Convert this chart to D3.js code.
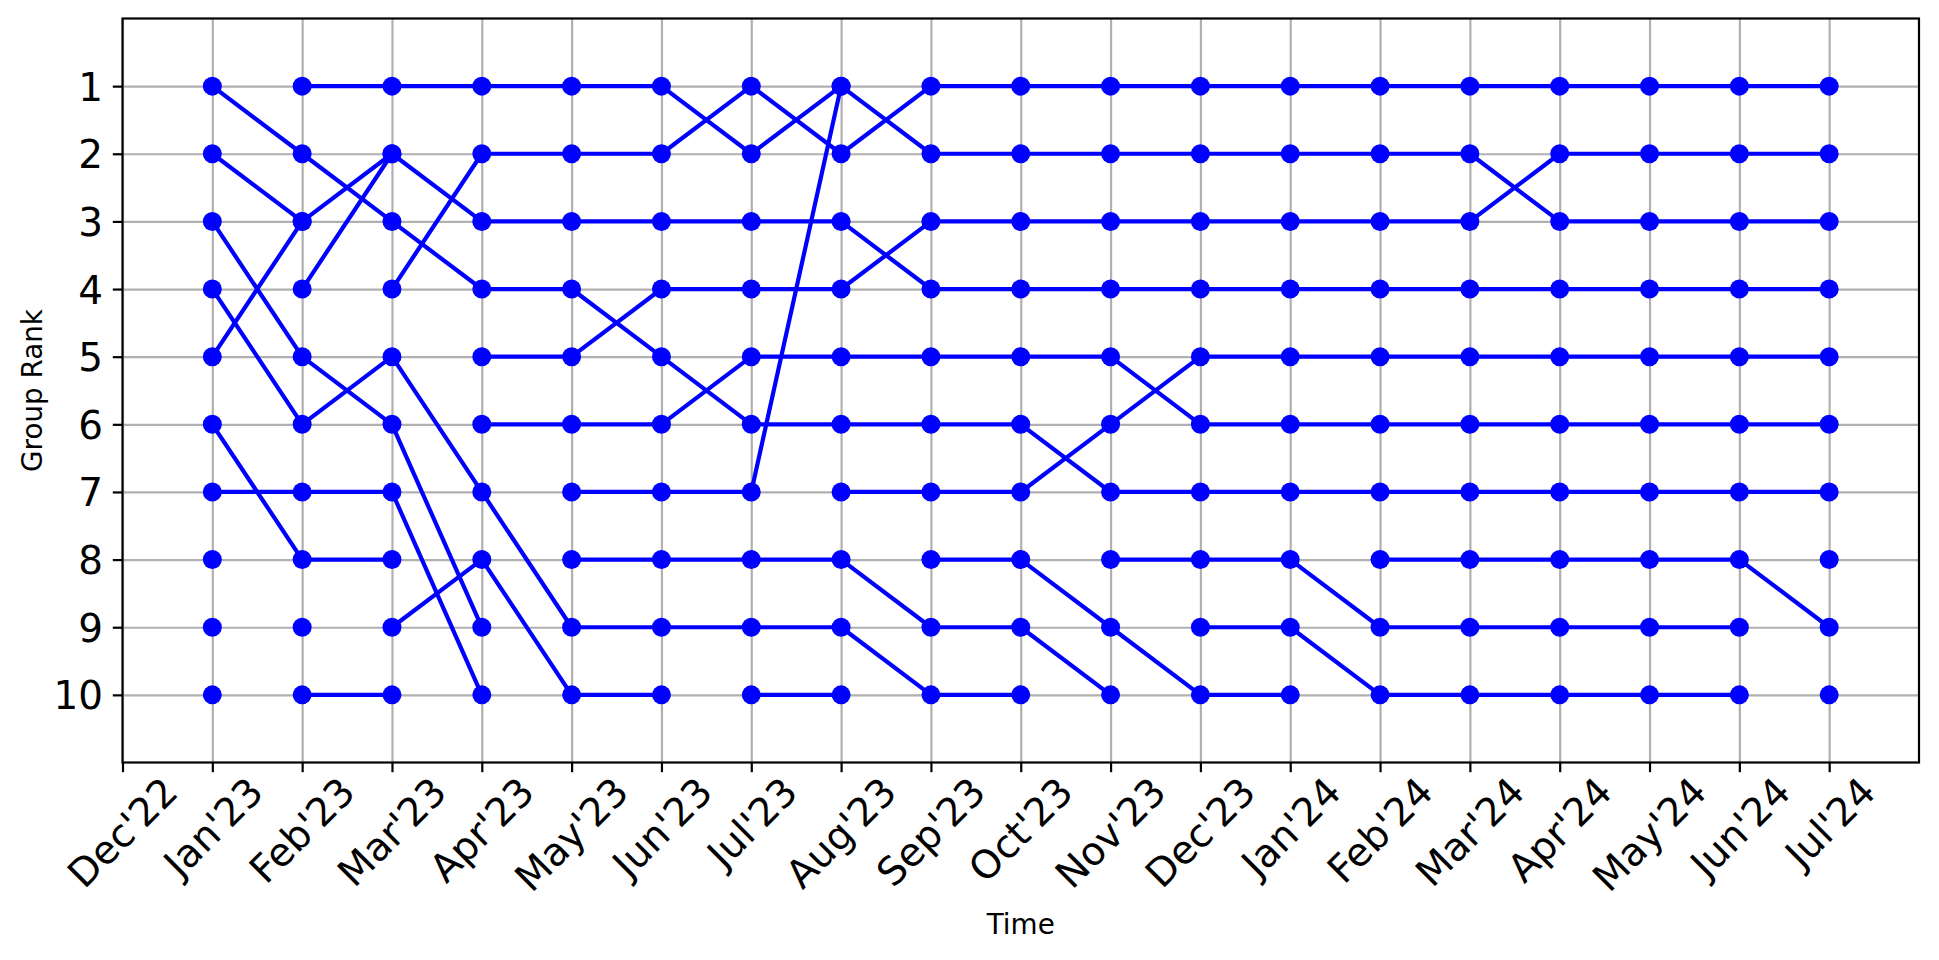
<!DOCTYPE html>
<html>
<head>
<meta charset="utf-8">
<script src="https://cdn.jsdelivr.net/npm/d3@7/dist/d3.min.js"></script>
<style>
  body { margin: 0; background: #fff; }
  svg { display: block; font-family: "DejaVu Sans", sans-serif; }
</style>
</head>
<body>
<svg id="chart" width="1939" height="960"></svg>
<script>
const _ = null;

// x tick labels, Dec'22 is the empty month at the left edge
const tickLabels = ["Dec'22", "Jan'23", "Feb'23", "Mar'23", "Apr'23", "May'23", "Jun'23",
  "Jul'23", "Aug'23", "Sep'23", "Oct'23", "Nov'23", "Dec'23", "Jan'24", "Feb'24",
  "Mar'24", "Apr'24", "May'24", "Jun'24", "Jul'24"];
const rankTicks = [1, 2, 3, 4, 5, 6, 7, 8, 9, 10];

// rank of each group per month (index 0 = Jan'23), null = not in the top 10
const g01 = [1, 2, 3, 4, 4, 5, 6, 6, 6, 6, 7, 7, 7, 7, 7, 7, 7, 7, 7];
const g02 = [2, 3, 2, 3, 3, 3, 3, 3, 4, 4, 4, 4, 4, 4, 4, 4, 4, 4, 4];
const g03 = [3, 5, 6, 9];
const g04 = [4, 6, 5, 7, 9, 9, 9, 9, 10, 10];
const g05 = [5, 3];
const g06 = [6, 8, 8];
const g07 = [7, 7, 7, 10];
const g08 = [8];
const g09 = [9];
const g10 = [10];
const g11 = [_, 1, 1, 1, 1, 1, 2, 1, 2, 2, 2, 2, 2, 2, 2, 3, 3, 3, 3];
const g12 = [_, 4, 2];
const g13 = [_, 9];
const g14 = [_, 10, 10];
const g15 = [_, _, 4, 2, 2, 2, 1, 2, 1, 1, 1, 1, 1, 1, 1, 1, 1, 1, 1];
const g16 = [_, _, 9, 8, 10, 10];
const g17 = [_, _, _, 5, 5, 4, 4, 4, 3, 3, 3, 3, 3, 3, 3, 2, 2, 2, 2];
const g18 = [_, _, _, 6, 6, 6, 5, 5, 5, 5, 5, 6, 6, 6, 6, 6, 6, 6, 6];
const g19 = [_, _, _, _, 7, 7, 7, 1];
const g20 = [_, _, _, _, 8, 8, 8, 8, 9, 9, 10];
const g21 = [_, _, _, _, _, _, 10, 10];
const g22 = [_, _, _, _, _, _, _, 7, 7, 7, 6, 5, 5, 5, 5, 5, 5, 5, 5];
const g23 = [_, _, _, _, _, _, _, _, 8, 8, 9, 10, 10];
const g24 = [_, _, _, _, _, _, _, _, _, _, 8, 8, 8, 9, 9, 9, 9, 9];
const g25 = [_, _, _, _, _, _, _, _, _, _, _, 9, 9, 10, 10, 10, 10, 10];
const g26 = [_, _, _, _, _, _, _, _, _, _, _, _, _, 8, 8, 8, 8, 8, 9];
const g27 = [_, _, _, _, _, _, _, _, _, _, _, _, _, _, _, _, _, _, 8];
const g28 = [_, _, _, _, _, _, _, _, _, _, _, _, _, _, _, _, _, _, 10];

const groups = [g01, g02, g03, g04, g05, g06, g07, g08, g09, g10, g11, g12, g13, g14,
  g15, g16, g17, g18, g19, g20, g21, g22, g23, g24, g25, g26, g27, g28];

// plot box (matplotlib at 200 dpi: 0.8pt = 2.2px, 3.5pt = 9.7px)
const boxL = 122.5, boxR = 1919, boxT = 18.5, boxB = 762.5;
const tickLen = 9.7, tickPad = 9.7;
const tickFont = 38.9, labelFont = 27.8;

const svg = d3.select("#chart");

const x = d3.scaleLinear().domain([-1, 19]).range([boxL, boxR]);
const y = d3.scaleLinear().domain([0, 11]).range([boxT, boxB]);
const xTicks = d3.range(-1, 19);

// grid
svg.append("g")
  .attr("transform", `translate(0,${boxB})`)
  .call(d3.axisBottom(x).tickValues(xTicks).tickSize(-(boxB - boxT)).tickFormat(""))
  .call(g => g.select(".domain").remove())
  .call(g => g.selectAll("line").attr("stroke", "#b0b0b0").attr("stroke-width", 2.2));

svg.append("g")
  .attr("transform", `translate(${boxL},0)`)
  .call(d3.axisLeft(y).tickValues(rankTicks).tickSize(-(boxR - boxL)).tickFormat(""))
  .call(g => g.select(".domain").remove())
  .call(g => g.selectAll("line").attr("stroke", "#b0b0b0").attr("stroke-width", 2.2));

// lines + markers
const line = d3.line()
  .defined(d => d != null)
  .x((d, i) => x(i))
  .y(d => y(d));

const plot = svg.append("g");
groups.forEach(g => {
  plot.append("path")
    .datum(g)
    .attr("d", line)
    .attr("fill", "none")
    .attr("stroke", "#0000ff")
    .attr("stroke-width", 4.2)
    .attr("stroke-linejoin", "round")
    .attr("stroke-linecap", "square");
  plot.selectAll(null)
    .data(g.map((r, i) => ({ r, i })).filter(d => d.r != null))
    .join("circle")
    .attr("cx", d => x(d.i))
    .attr("cy", d => y(d.r))
    .attr("r", 9.5)
    .attr("fill", "#0000ff");
});

// frame
svg.append("rect")
  .attr("x", boxL).attr("y", boxT)
  .attr("width", boxR - boxL).attr("height", boxB - boxT)
  .attr("fill", "none").attr("stroke", "#000").attr("stroke-width", 2.2);

// y axis ticks
const yAxis = svg.append("g")
  .attr("transform", `translate(${boxL},0)`)
  .call(d3.axisLeft(y).tickValues(rankTicks).tickSize(tickLen).tickPadding(tickPad))
  .call(g => g.select(".domain").remove());
yAxis.selectAll("line").attr("stroke", "#000").attr("stroke-width", 2.2);
yAxis.selectAll("text")
  .attr("font-size", tickFont)
  .attr("font-family", "DejaVu Sans")
  .attr("fill", "#000")
  .attr("dy", null)
  .attr("y", tickFont * 0.36);

// x axis ticks, labels rotated 45deg and centred on the tick
const xAxis = svg.append("g")
  .attr("transform", `translate(0,${boxB})`)
  .call(d3.axisBottom(x).tickValues(xTicks).tickSize(tickLen).tickFormat(""))
  .call(g => g.select(".domain").remove());
xAxis.selectAll("line").attr("stroke", "#000").attr("stroke-width", 2.2);

const ang = -Math.PI / 4;
xTicks.forEach((v, k) => {
  const t = svg.append("text")
    .attr("font-size", tickFont)
    .attr("fill", "#000")
    .text(tickLabels[k]);
  const b = t.node().getBBox();
  const pts = [[b.x, b.y], [b.x + b.width, b.y], [b.x, b.y + b.height], [b.x + b.width, b.y + b.height]]
    .map(([px, py]) => [px * Math.cos(ang) - py * Math.sin(ang), px * Math.sin(ang) + py * Math.cos(ang)]);
  const minX = d3.min(pts, p => p[0]), maxX = d3.max(pts, p => p[0]);
  const minY = d3.min(pts, p => p[1]);
  const tx = x(v) - (minX + maxX) / 2;
  const ty = boxB + tickLen + tickPad - minY - 13;
  t.attr("transform", `translate(${tx},${ty}) rotate(-45)`);
});

// axis titles
svg.append("text")
  .attr("x", (boxL + boxR) / 2)
  .attr("y", 934)
  .attr("text-anchor", "middle")
  .attr("font-size", labelFont)
  .text("Time");

svg.append("text")
  .attr("transform", `translate(41.5,${(boxT + boxB) / 2}) rotate(-90)`)
  .attr("text-anchor", "middle")
  .attr("font-size", labelFont)
  .text("Group Rank");
</script>
</body>
</html>
